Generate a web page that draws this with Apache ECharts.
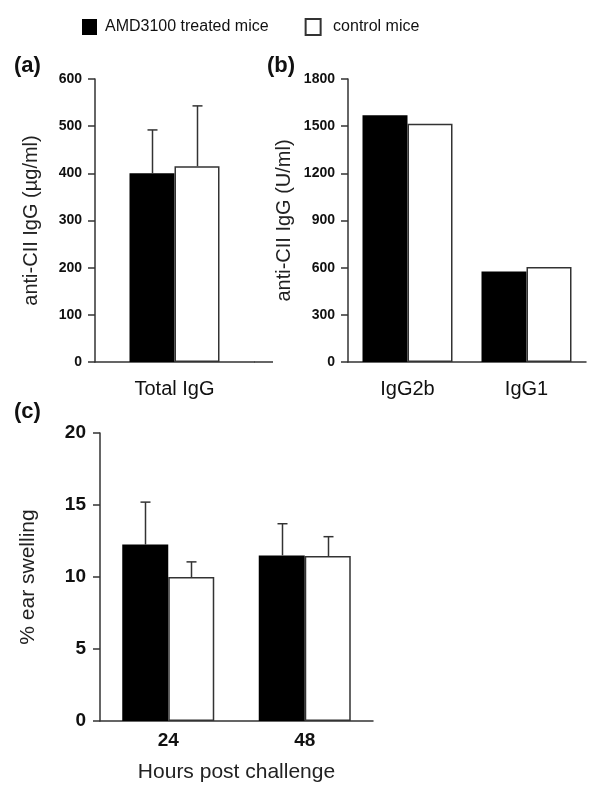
<!DOCTYPE html>
<html>
<head>
<meta charset="utf-8">
<script src="https://cdn.jsdelivr.net/npm/echarts@6/dist/echarts.min.js"></script>
<style>
html,body{margin:0;padding:0;background:#fff;}
#chart{width:600px;height:795px;}
</style>
</head>
<body>
<div id="chart"></div>
<script>
// ---- data ----
const seriesNames = ['AMD3100 treated mice', 'control mice'];

const catsA = ['Total IgG'];
const treatedA = [400];
const controlA = [415];
const treatedErrA = [92];
const controlErrA = [128];
const ticksA = { min: 0, max: 600, interval: 100 };

const catsB = ['IgG2b', 'IgG1'];
const treatedB = [1570, 575];
const controlB = [1515, 605];
const ticksB = { min: 0, max: 1800, interval: 300 };

const catsC = ['24', '48'];
const treatedC = [12.25, 11.5];
const controlC = [10.0, 11.45];
const treatedErrC = [2.95, 2.2];
const controlErrC = [1.05, 1.35];
const ticksC = { min: 0, max: 20, interval: 5 };

// ---- styles ----
const FONT = '"Liberation Sans", Arial, sans-serif';
const AX = '#333';
const blackStyle = { color: '#000', borderColor: '#000', borderWidth: 0 };
const whiteStyle = { color: '#fff', borderColor: '#333', borderWidth: 1.5 };

function errData(vals, errs) {
  return vals.map((v, i) => [i, v, errs[i]]);
}
function errSeries(gridIdx, vals, errs, sign, bw) {
  return {
    type: 'custom', xAxisIndex: gridIdx, yAxisIndex: gridIdx, z: 5,
    silent: true,
    data: errData(vals, errs),
    renderItem: function (params, api) {
      const i = api.value(0), v = api.value(1), e = api.value(2);
      const p0 = api.coord([i, v]);
      const p1 = api.coord([i, v + e]);
      const cx = Math.round(p0[0] + sign * bw / 2) + 0.5;
      const st = { stroke: '#333', lineWidth: 1.5 };
      return {
        type: 'group',
        children: [
          { type: 'line', shape: { x1: cx, y1: p0[1], x2: cx, y2: p1[1] }, style: st },
          { type: 'line', shape: { x1: cx - 5, y1: p1[1], x2: cx + 5, y2: p1[1] }, style: st }
        ]
      };
    }
  };
}

function yAx(gridIdx, t, name, nameGap, labelSize, nameSize, margin) {
  return {
    gridIndex: gridIdx, type: 'value', min: t.min, max: t.max, interval: t.interval,
    name: name, nameLocation: 'middle', nameGap: nameGap, nameRotate: 90,
    nameTextStyle: { fontFamily: FONT, fontSize: nameSize, color: '#222' },
    axisLine: { show: true, lineStyle: { color: AX, width: 1.5 } },
    axisTick: { show: true, length: 7, lineStyle: { color: AX, width: 1.5 } },
    axisLabel: { fontFamily: FONT, fontWeight: 'bold', fontSize: labelSize, color: '#111', margin: margin,
                 formatter: v => String(v) },
    splitLine: { show: false }
  };
}
function xAx(gridIdx, cats, labelSize, bold, margin, name, nameGap) {
  return {
    gridIndex: gridIdx, type: 'category', data: cats,
    axisLine: { show: true, lineStyle: { color: AX, width: 1.5 } },
    axisTick: { show: false },
    axisLabel: { fontFamily: FONT, fontSize: labelSize, fontWeight: bold ? 'bold' : 'normal', color: '#111', margin: margin },
    name: name || '', nameLocation: 'middle', nameGap: nameGap || 0,
    nameTextStyle: { fontFamily: FONT, fontSize: 21, color: '#222' }
  };
}

const BWA = 45, BWB = 45, BWC = 46;

const option = {
  animation: false,
  backgroundColor: '#fff',
  textStyle: { fontFamily: FONT },
  legend: {
    left: 82, top: 18, padding: 0, itemWidth: 15, itemHeight: 16, itemGap: 36, icon: 'rect',
    data: seriesNames,
    formatter: n => (n === 'control mice' ? ' ' + n : n),
    textStyle: { fontFamily: FONT, fontSize: 16, color: '#111', padding: [0, 0, 0, 3] }
  },
  title: [
    { text: '(a)', left: 14, top: 55, padding: 0, textStyle: { fontFamily: FONT, fontWeight: 'bold', fontSize: 22, color: '#111' } },
    { text: '(b)', left: 267, top: 55, padding: 0, textStyle: { fontFamily: FONT, fontWeight: 'bold', fontSize: 22, color: '#111' } },
    { text: '(c)', left: 14, top: 401, padding: 0, textStyle: { fontFamily: FONT, fontWeight: 'bold', fontSize: 22, color: '#111' } }
  ],
  grid: [
    { left: 95, top: 79, width: 159, height: 283 },
    { left: 348, top: 79, width: 238, height: 283 },
    { left: 100, top: 433, width: 273, height: 288 }
  ],
  xAxis: [
    xAx(0, catsA, 20, false, 17),
    xAx(1, catsB, 20, false, 17),
    xAx(2, catsC, 19, true, 10, 'Hours post challenge', 41)
  ],
  yAxis: [
    yAx(0, ticksA, 'anti-CII IgG (µg/ml)', 54, 14, 20, 13),
    yAx(1, ticksB, 'anti-CII IgG (U/ml)', 54, 14, 20, 13),
    yAx(2, ticksC, '% ear swelling', 61, 19, 21, 14)
  ],
  graphic: [
    { type: 'line', shape: { x1: 254, y1: 362, x2: 273, y2: 362 }, style: { stroke: AX, lineWidth: 1.5 } }
  ],
  series: [
    { name: seriesNames[0], type: 'bar', xAxisIndex: 0, yAxisIndex: 0, data: treatedA, barWidth: BWA, barGap: '0%', itemStyle: blackStyle },
    { name: seriesNames[1], type: 'bar', xAxisIndex: 0, yAxisIndex: 0, data: controlA, barWidth: BWA, barGap: '0%', itemStyle: whiteStyle },
    { name: seriesNames[0], type: 'bar', xAxisIndex: 1, yAxisIndex: 1, data: treatedB, barWidth: BWB, barGap: '0%', itemStyle: blackStyle },
    { name: seriesNames[1], type: 'bar', xAxisIndex: 1, yAxisIndex: 1, data: controlB, barWidth: BWB, barGap: '0%', itemStyle: whiteStyle },
    { name: seriesNames[0], type: 'bar', xAxisIndex: 2, yAxisIndex: 2, data: treatedC, barWidth: BWC, barGap: '0%', itemStyle: blackStyle },
    { name: seriesNames[1], type: 'bar', xAxisIndex: 2, yAxisIndex: 2, data: controlC, barWidth: BWC, barGap: '0%', itemStyle: whiteStyle },
    errSeries(0, treatedA, treatedErrA, -1, BWA),
    errSeries(0, controlA, controlErrA, 1, BWA),
    errSeries(2, treatedC, treatedErrC, -1, BWC),
    errSeries(2, controlC, controlErrC, 1, BWC)
  ]
};

const chart = echarts.init(document.getElementById('chart'), null, { renderer: 'canvas' });
chart.setOption(option);
</script>
</body>
</html>
